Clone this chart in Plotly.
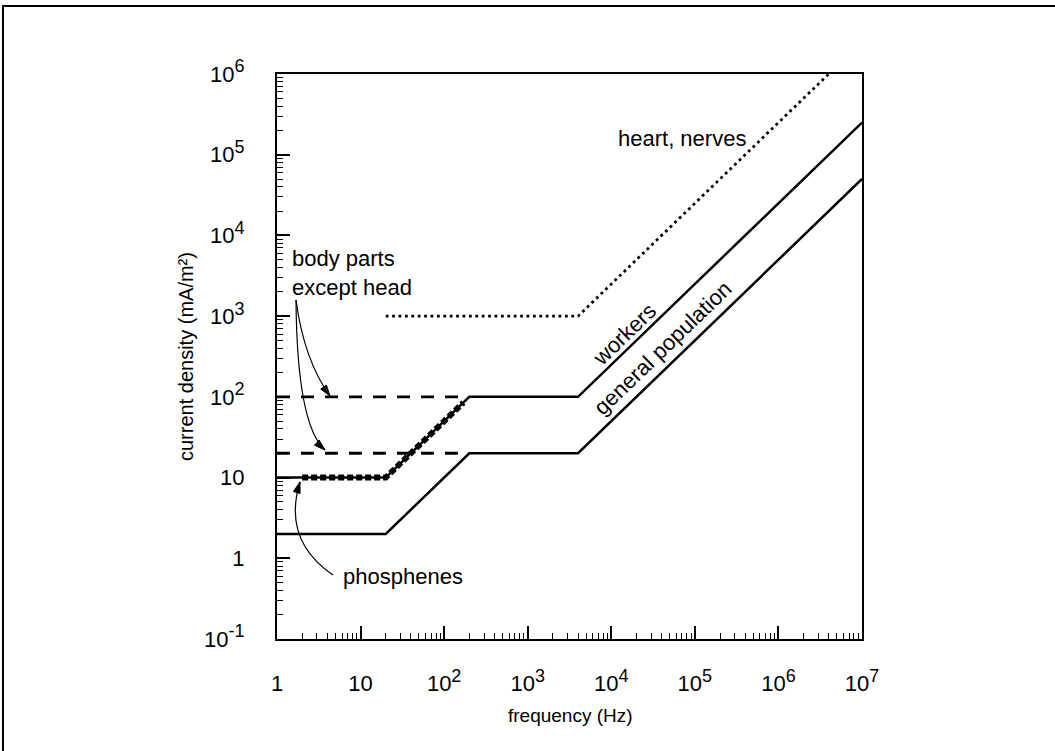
import plotly.graph_objects as go
import math

# ---- data ----
freq_workers = [1, 20, 200, 4000, 1e7]
cd_workers = [10, 10, 100, 100, 2.5e5]
freq_general = [1, 20, 200, 4000, 1e7]
cd_general = [2, 2, 20, 20, 5e4]
freq_heart = [20, 4000, 4e6]
cd_heart = [1000, 1000, 1e6]
freq_body_hi = [1, 200]
cd_body_hi = [100, 100]
freq_body_lo = [1, 200]
cd_body_lo = [20, 20]
freq_phos = [2, 20, 170]
cd_phos = [10, 10, 85]

SUP = '<sup><span style="font-size:18px">{}</span></sup>'
x_tickvals = [1, 10, 1e2, 1e3, 1e4, 1e5, 1e6, 1e7]
x_ticktext = ["1", "10"] + ["10" + SUP.format(e) for e in ["2", "3", "4", "5", "6", "7"]]
y_tickvals = [0.1, 1, 10, 1e2, 1e3, 1e4, 1e5, 1e6]
y_ticktext = ["10" + SUP.format("-1"), "1", "10"] + ["10" + SUP.format(e) for e in ["2", "3", "4", "5", "6"]]

W, H = 1055, 751
L, R, T, B = 277, 862, 74, 639
FONT = "Liberation Sans, Arial, sans-serif"


def px(x):
    return (x - L) / (R - L)


def py(y):
    return (B - y) / (B - T)


fig = go.Figure()

line_common = dict(color="black")
fig.add_trace(go.Scatter(x=freq_general, y=cd_general, mode="lines",
                         line=dict(width=2.5, **line_common), showlegend=False))
fig.add_trace(go.Scatter(x=freq_workers, y=cd_workers, mode="lines",
                         line=dict(width=2.5, **line_common), showlegend=False))
fig.add_trace(go.Scatter(x=freq_body_hi, y=cd_body_hi, mode="lines",
                         line=dict(width=2.8, dash="13px,11px", **line_common), showlegend=False))
fig.add_trace(go.Scatter(x=freq_body_lo, y=cd_body_lo, mode="lines",
                         line=dict(width=2.8, dash="13px,11px", **line_common), showlegend=False))
fig.add_trace(go.Scatter(x=freq_heart, y=cd_heart, mode="lines",
                         line=dict(width=2.8, dash="2.8px,3.6px", **line_common), showlegend=False))
fig.add_trace(go.Scatter(x=freq_phos, y=cd_phos, mode="lines",
                         line=dict(width=6, dash="6px,3px", **line_common), showlegend=False))

shapes = []
# outer frame (extends beyond the page on right/bottom)
shapes.append(dict(type="rect", xref="paper", yref="paper",
                   x0=px(3), x1=px(1060), y0=py(6), y1=py(760),
                   line=dict(color="black", width=2), fillcolor="rgba(0,0,0,0)", layer="below"))


def curve(p0, c, p1):
    return dict(type="path", xref="paper", yref="paper",
                path=f"M {px(p0[0])},{py(p0[1])} Q {px(c[0])},{py(c[1])} {px(p1[0])},{py(p1[1])}",
                line=dict(color="black", width=1.2))


def head(tip, ctrl, length=11, half=3.5):
    dx, dy = tip[0] - ctrl[0], tip[1] - ctrl[1]
    n = math.hypot(dx, dy)
    ux, uy = dx / n, dy / n
    bx, by = tip[0] - ux * length, tip[1] - uy * length
    p1 = (bx - uy * half, by + ux * half)
    p2 = (bx + uy * half, by - ux * half)
    return dict(type="path", xref="paper", yref="paper",
                path=(f"M {px(tip[0])},{py(tip[1])} L {px(p1[0])},{py(p1[1])} "
                      f"L {px(p2[0])},{py(p2[1])} Z"),
                line=dict(color="black", width=1), fillcolor="black")


# annotation arrows
a1 = ((296, 300), (304, 360), (330, 396))
a2 = ((296, 300), (297, 425), (325, 450))
a3 = ((333, 575), (282, 540), (300, 482))
for a in (a1, a2, a3):
    shapes.append(curve(*a))
    shapes.append(head(a[2], a[1]))

TXT = dict(size=22, family=FONT, color="black")


def ann(text, x, y, font=TXT, xanchor="center", **kw):
    return dict(text=text, x=px(x), y=py(y), xref="paper", yref="paper",
                xanchor=xanchor, yanchor="middle", showarrow=False, font=font, **kw)


annotations = [
    ann("heart, nerves", 682, 138),
    ann("workers", 624, 334, textangle=-44),
    ann("general population", 662, 348, textangle=-44),
    ann("body parts<br>except head", 290, 273, xanchor="left", align="left"),
    ann("phosphenes", 341, 576, xanchor="left"),
    ann("current density (mA/m²)", 186, 357, textangle=-90,
        font=dict(size=20, family=FONT, color="black")),
    ann("frequency (Hz)", 570, 715, font=dict(size=19, family=FONT, color="black")),
]

axis_common = dict(
    type="log", showgrid=False, zeroline=False, showline=True, linecolor="black",
    linewidth=2, mirror=True, ticks="inside", ticklen=13, tickwidth=1.5, tickcolor="black",
    tickfont=dict(size=22, family=FONT, color="black"),
    minor=dict(ticks="inside", ticklen=6, tickwidth=1, tickcolor="black", dtick="D1", showgrid=False),
)

fig.update_layout(
    width=W, height=H,
    margin=dict(l=L, r=W - R, t=T, b=H - B, autoexpand=False),
    paper_bgcolor="white", plot_bgcolor="white",
    xaxis=dict(range=[0, 7], tickvals=x_tickvals, ticktext=x_ticktext,
               ticklabelstandoff=24, **axis_common),
    yaxis=dict(range=[-1, 6], tickvals=y_tickvals, ticktext=y_ticktext,
               ticklabelstandoff=26, **axis_common),
    shapes=shapes, annotations=annotations, showlegend=False,
)

fig.write_html("out.html", config={"displayModeBar": False},
               post_script="document.body.style.margin='0px';")
